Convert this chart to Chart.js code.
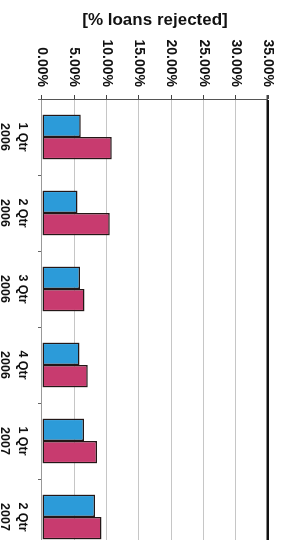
<!DOCTYPE html>
<html>
<head>
<meta charset="utf-8">
<script src="https://cdn.jsdelivr.net/npm/chart.js@4.4.0/dist/chart.umd.min.js"></script>
<style>
  html, body { margin: 0; padding: 0; background: #fff; }
  #wrap { position: relative; width: 294px; height: 540px; overflow: hidden; background: #fff; }
  /* the chart is drawn as a normal column chart and turned a quarter clockwise, like the scan */
  #chart { position: absolute; left: 0; top: 0; transform-origin: 0 0; transform: translate(294px, 0) rotate(90deg); }
</style>
</head>
<body>
<div id="wrap"><canvas id="chart" width="555" height="294" style="width:555px;height:294px"></canvas></div>
<script>
const categories = [['1 Qtr', '2006'], ['2 Qtr', '2006'], ['3 Qtr', '2006'], ['4 Qtr', '2006'], ['1 Qtr', '2007'], ['2 Qtr', '2007']];
const seriesNames = ['Series 1', 'Series 2'];
const series1 = [6.0, 5.5, 5.9, 5.8, 6.5, 8.2];
const series2 = [10.8, 10.5, 6.6, 7.1, 8.5, 9.2];
const axisMin = 0;
const axisMax = 35;
const axisStep = 5;
const axisTitle = '[% loans rejected]';

const fontFamily = '"Liberation Sans", Arial, sans-serif';

function makeChart() {
  const chartElement = document.getElementById('chart');

  const data = {
    labels: categories,
    datasets: [
      {
        label: seriesNames[0],
        data: series1,
        backgroundColor: '#2c9bd9',
        borderColor: '#231717',
        borderWidth: 1.5,
        borderSkipped: false
      },
      {
        label: seriesNames[1],
        data: series2,
        backgroundColor: '#c83b6f',
        borderColor: '#231717',
        borderWidth: 1.5,
        borderSkipped: false
      }
    ]
  };

  return new Chart(chartElement, {
    type: 'bar',
    data: data,
    options: {
      responsive: false,
      animation: false,
      devicePixelRatio: 1,
      layout: { padding: { top: 26, right: 0, bottom: 0, left: 0 } },
      datasets: { bar: { categoryPercentage: 0.59, barPercentage: 1.0 } },
      plugins: {
        legend: { display: false },
        tooltip: { enabled: false }
      },
      scales: {
        x: {
          grid: { drawOnChartArea: false, tickLength: 4, tickColor: '#666' },
          border: { display: true, color: '#999', width: 1 },
          ticks: {
            color: '#111',
            padding: 7,
            maxRotation: 0,
            font: { family: fontFamily, size: 12.5, weight: 'bold', lineHeight: 1.4 }
          },
          afterFit: function(scale) { scale.height = 42; }
        },
        y: {
          min: axisMin,
          max: axisMax,
          grid: {
            color: function(c) { return c.tick && c.tick.value === axisMax ? '#111' : '#c6c6c6'; },
            lineWidth: function(c) { return c.tick && c.tick.value === axisMax ? 2.5 : 1; },
            tickLength: 4,
            tickColor: '#444'
          },
          border: { display: true, color: '#555', width: 1 },
          ticks: {
            stepSize: axisStep,
            color: '#111',
            padding: 8,
            font: { family: fontFamily, size: 14, weight: 'bold' },
            callback: function(v) { return v.toFixed(2) + '%'; }
          },
          title: {
            display: true,
            text: axisTitle,
            color: '#111',
            padding: { top: 10, bottom: 0 },
            font: { family: fontFamily, size: 17, weight: 'bold' }
          },
          afterFit: function(scale) { scale.width = 99; }
        }
      }
    }
  });
}

makeChart();
</script>
</body>
</html>
